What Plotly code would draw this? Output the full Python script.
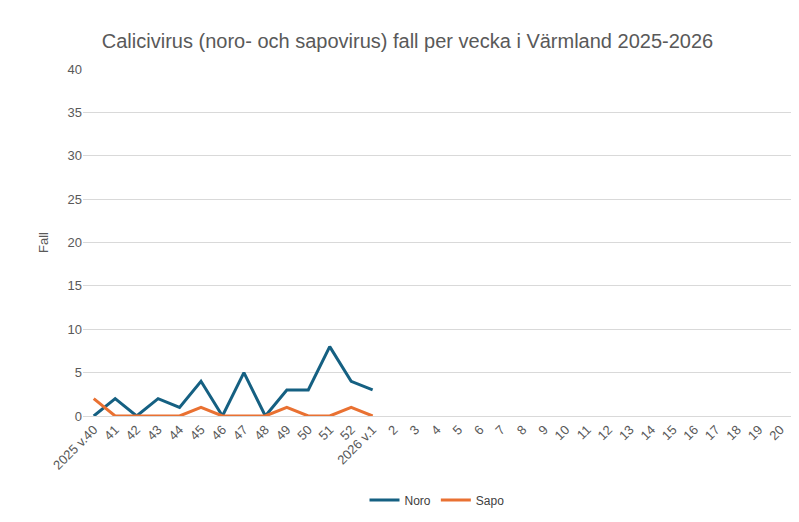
import plotly.graph_objects as go

weeks = ["2025 v.40"] + [str(w) for w in range(41, 53)] + ["2026 v.1"] + [str(w) for w in range(2, 21)]
noro = [0, 2, 0, 2, 1, 4, 0, 5, 0, 3, 3, 8, 4, 3]
sapo = [2, 0, 0, 0, 0, 1, 0, 0, 0, 1, 0, 0, 1, 0]

fig = go.Figure()
fig.add_trace(go.Scatter(x=weeks[:len(noro)], y=noro, mode="lines", name="Noro",
                         line=dict(color="#156082", width=3)))
fig.add_trace(go.Scatter(x=weeks[:len(sapo)], y=sapo, mode="lines", name="Sapo",
                         line=dict(color="#E97132", width=3)))
fig.update_layout(
    width=799, height=522, paper_bgcolor="white", plot_bgcolor="white",
    font=dict(family="Liberation Sans, Arial", color="#595959", size=13),
    title=dict(text="Calicivirus (noro- och sapovirus) fall per vecka i Värmland 2025-2026",
               x=0.5, xanchor="center", y=0.95, font=dict(size=20, color="#595959")),
    margin=dict(l=75, r=16, t=61, b=114),
    showlegend=True,
    legend=dict(orientation="h", x=0.5, xanchor="center", y=-0.2, yanchor="top",
                font=dict(size=12, color="#404040")),
    xaxis=dict(type="category", categoryorder="array", categoryarray=weeks,
               range=[-0.5, len(weeks) - 0.5], tickangle=-45, showgrid=False,
               showline=True, linecolor="#D9D9D9", ticks="", tickfont=dict(size=13),
               automargin=False),
    yaxis=dict(range=[0, 40], dtick=5, gridcolor="#D9D9D9", zeroline=False,
               title=dict(text="Fall", font=dict(size=13)), tickfont=dict(size=13),
               automargin=False),
)
fig.write_html("out.html")
